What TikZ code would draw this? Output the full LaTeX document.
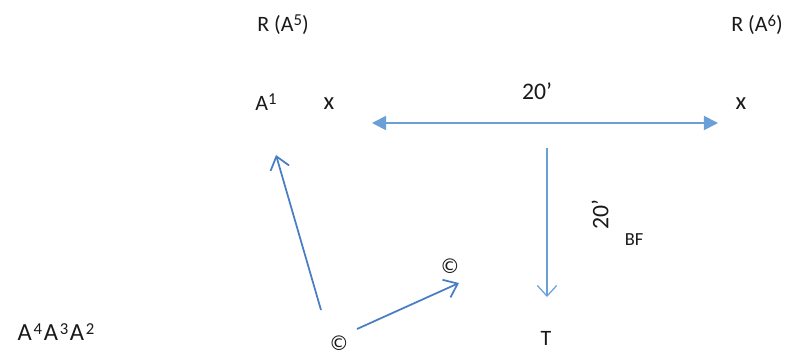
\documentclass[tikz,border=0pt]{standalone}
\usepackage{fontspec}
\setmainfont{Carlito}
\usepackage{xcolor}
\usetikzlibrary{arrows.meta}

\definecolor{arrowblue}{HTML}{4A7EC4}
\definecolor{lightblue}{HTML}{6A9FD8}

\newcommand{\sups}[1]{\raisebox{0.55ex}{\fontsize{9.5}{10}\selectfont #1}}

\tikzset{
    lbl/.style={inner sep=1pt, font=\fontsize{12.5}{14}\selectfont, text=black!90},
    openarrow/.style={arrowblue, line width=1pt, -{Straight Barb[length=7pt, width=11pt, line width=1pt]}},
}

\begin{document}
\begin{tikzpicture}[x=0.02cm, y=-0.02cm]
        \useasboundingbox (0,0) rectangle (794,355);
        % top labels
        \node[lbl] (rl) at (283,25) {R (A\sups{5})};
        \node[lbl] (rr) at (757,25) {R (A\sups{6})};
        \node[lbl] (a1) at (266,102) {A\sups{1}};
        \node[lbl, font=\fontsize{14}{14}\selectfont] (xl) at (329,104) {x};
        \node[lbl, font=\fontsize{14}{14}\selectfont] (xr) at (741,104) {x};
        \node[lbl, font=\fontsize{13.5}{14}\selectfont] (len) at (537,91) {20’};
        % horizontal span
        \coordinate (hl) at (372,123);
        \coordinate (hr) at (718,123);
        \draw[lightblue, line width=1pt, {Triangle[length=8pt, width=8pt]}-{Triangle[length=8pt, width=8pt]}] (hl) -- (hr);
        % vertical span
        \coordinate (vt) at (547,148);
        \coordinate (vb) at (547,297);
        \draw[lightblue, line width=0.7pt, -{Straight Barb[length=6pt, width=11pt, line width=0.7pt]}] (vt) -- (vb);
        \node[lbl, rotate=90, font=\fontsize{13.5}{14}\selectfont] (dep) at (600,215) {20’};
        \node[lbl, font=\fontsize{10.5}{12}\selectfont] (bf) at (634,240) {BF};
        % bottom labels
        \node[lbl] (cp) at (450,266) {\fontspec{DejaVu Sans}\fontsize{11.5}{12}\selectfont ©};
        \node[lbl] (cb) at (339,343) {\fontspec{DejaVu Sans}\fontsize{11.5}{12}\selectfont ©};
        \node[lbl] (t) at (546,338) {T};
        \node[lbl, font=\fontsize{14}{14}\selectfont] (aaa) at (56,332) {A\kern1pt\sups{4}\kern1pt A\kern1pt\sups{3}\kern1pt A\kern1pt\sups{2}};
        % arrows from the bottom
        \coordinate (s1) at (321,310);
        \coordinate (e1) at (276,155);
        \coordinate (s2) at (357,329);
        \coordinate (e2) at (459,283);
        \draw[openarrow] (s1) -- (e1);
        \draw[openarrow] (s2) -- (e2);
    \end{tikzpicture}
\end{document}
